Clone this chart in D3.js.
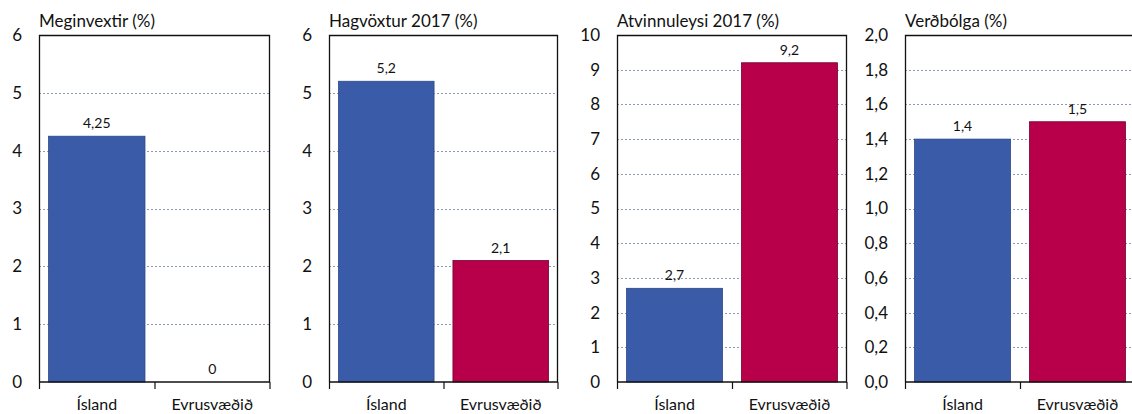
<!DOCTYPE html>
<html lang="is">
<head>
<meta charset="utf-8">
<title>Samanburður</title>
<script src="https://cdn.jsdelivr.net/npm/d3@7"></script>
<style>
  body { margin: 0; background: #fff; }
  text { font-family: Lato, "Open Sans", sans-serif; fill: #111; }
</style>
</head>
<body>
<div id="chart"></div>
<script>
// data
var titles = ["Meginvextir (%)", "Hagvöxtur 2017 (%)", "Atvinnuleysi 2017 (%)", "Verðbólga (%)"];
var categories = ["Ísland", "Evrusvæðið"];
var islandValues = [4.25, 5.2, 2.7, 1.4];
var euroValues = [0, 2.1, 9.2, 1.5];
var yMax = [6, 6, 10, 2];
var tickStep = [1, 1, 1, 0.2];
var tickDecimals = [0, 0, 0, 1];

var colors = ["#3a5ba8", "#b8004a"];
var strokes = ["#2c4785", "#6e0030"];

var W = 1132, H = 414;
var plotTop = 35, plotBottom = 382;
var panelLeft = [39, 329, 617, 905];
var panelWidth = [231, 229, 230, 230];

var svg = d3.select("#chart").append("svg")
    .attr("width", W)
    .attr("height", H);

function comma(v, dec) {
    return (dec == null ? String(v) : v.toFixed(dec)).replace(".", ",");
}

titles.forEach(function(title, i) {
    var g = svg.append("g")
        .attr("transform", "translate(" + panelLeft[i] + ",0)");
    var w = panelWidth[i];

    var x = d3.scaleBand()
        .domain(categories)
        .range([0, w])
        .paddingInner(0.165)
        .paddingOuter(0.083);

    var y = d3.scaleLinear()
        .domain([0, yMax[i]])
        .range([plotBottom, plotTop]);

    var ticks = d3.range(0, yMax[i] + tickStep[i] / 2, tickStep[i]);

    // dashed grid lines
    g.selectAll(".grid")
        .data(ticks.filter(function(t, k) { return k > 0 && k < ticks.length - 1; }))
        .enter()
        .append("line")
        .attr("x1", 0)
        .attr("x2", w)
        .attr("y1", function(d) { return Math.round(y(d)) + 0.5; })
        .attr("y2", function(d) { return Math.round(y(d)) + 0.5; })
        .style("stroke", "#8b9bb4")
        .style("stroke-width", 1)
        .style("stroke-dasharray", "2,2");

    var vals = [islandValues[i], euroValues[i]];

    g.selectAll(".bar")
        .data(vals)
        .enter()
        .append("rect")
        .attr("x", function(d, k) { return x(categories[k]); })
        .attr("width", x.bandwidth())
        .attr("y", function(d) { return y(d); })
        .attr("height", function(d) { return y(0) - y(d); })
        .style("fill", function(d, k) { return colors[k]; })
        .style("stroke", function(d, k) { return d > 0 ? strokes[k] : "none"; })
        .style("stroke-width", 0.8);

    g.selectAll(".val")
        .data(vals)
        .enter()
        .append("text")
        .attr("x", function(d, k) { return x(categories[k]) + x.bandwidth() / 2; })
        .attr("y", function(d) { return y(d) - 8; })
        .style("text-anchor", "middle")
        .style("font-size", "14px")
        .text(function(d) { return comma(d); });

    // y axis labels
    var yAxis = d3.axisLeft(y)
        .tickValues(ticks)
        .tickSize(0)
        .tickPadding(17)
        .tickFormat(function(d) { return comma(d, tickDecimals[i]); });
    var ya = g.append("g").call(yAxis);
    ya.select(".domain").remove();
    ya.selectAll("text")
        .style("font-size", "17px")
        .style("font-family", "Lato, sans-serif");

    // frame: left, top, right
    g.append("path")
        .attr("d", "M0.5," + plotBottom + "V" + (plotTop + 0.5) + "H" + (w - 0.5) + "V" + plotBottom)
        .style("fill", "none")
        .style("stroke", "#111")
        .style("stroke-width", 1.3);

    // category axis
    var xAxis = d3.axisBottom(x)
        .tickSize(0)
        .tickPadding(17);
    var xa = g.append("g")
        .attr("transform", "translate(0," + plotBottom + ")")
        .call(xAxis);
    xa.select(".domain")
        .attr("d", "M0.5,0H" + w)
        .style("stroke", "#111")
        .style("stroke-width", 1.3);
    xa.selectAll("text")
        .style("font-size", "16px")
        .style("font-family", "Lato, sans-serif");
    xa.selectAll(".sep")
        .data([0, (x(categories[0]) + x.bandwidth() + x(categories[1])) / 2, w])
        .enter()
        .append("line")
        .attr("x1", function(d) { return Math.min(d, w - 0.5) + 0.5; })
        .attr("x2", function(d) { return Math.min(d, w - 0.5) + 0.5; })
        .attr("y1", 0)
        .attr("y2", 7)
        .style("stroke", "#111")
        .style("stroke-width", 1.2);

    g.append("text")
        .attr("x", 0)
        .attr("y", 27)
        .style("font-size", "17px")
        .text(title);
});
</script>
</body>
</html>
